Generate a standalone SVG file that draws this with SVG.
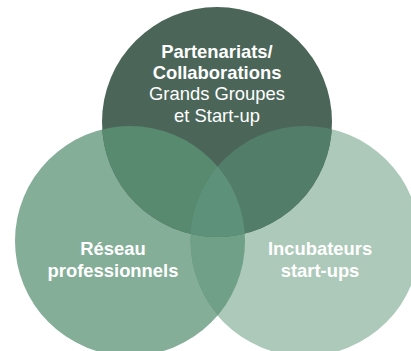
<svg xmlns="http://www.w3.org/2000/svg" width="411" height="351" viewBox="0 0 411 351">
  <style>
    .lbl { font-family: "Liberation Sans", Arial, Helvetica, sans-serif; font-size: 18.4px; fill: #ffffff; text-anchor: middle; }
    .b { font-weight: bold; }
  </style>
  <defs>
    <clipPath id="cTop"><circle cx="217" cy="122" r="115"/></clipPath>
    <clipPath id="cLeft"><circle cx="130" cy="241" r="115"/></clipPath>
    <clipPath id="cRight"><circle cx="305" cy="241" r="115"/></clipPath>
  </defs>
  <rect width="411" height="351" fill="#ffffff"/>
  <g id="reseau">
    <circle cx="130" cy="241" r="115" fill="#84ae98"/>
  </g>
  <g id="incubateurs">
    <circle cx="305" cy="241" r="115" fill="#adc9b9"/>
  </g>
  <g id="partenariats">
    <circle cx="217" cy="122" r="115" fill="#4b6659"/>
  </g>
  <g id="overlaps">
    <g clip-path="url(#cLeft)"><circle cx="305" cy="241" r="115" fill="#70a088"/></g>
    <g clip-path="url(#cLeft)"><circle cx="217" cy="122" r="115" fill="#578a6f"/></g>
    <g clip-path="url(#cRight)"><circle cx="217" cy="122" r="115" fill="#527d69"/></g>
    <g clip-path="url(#cLeft)"><g clip-path="url(#cRight)"><circle cx="217" cy="122" r="115" fill="#5e917a"/></g></g>
  </g>
  <g id="labels">
    <text class="lbl b" x="217" y="57.5">Partenariats/</text>
    <text class="lbl b" x="217" y="78.5">Collaborations</text>
    <text class="lbl" x="217" y="100">Grands Groupes</text>
    <text class="lbl" x="217" y="121.5">et Start-up</text>
    <text class="lbl b" x="113" y="255">Réseau</text>
    <text class="lbl b" x="113" y="276.5">professionnels</text>
    <text class="lbl b" x="320" y="255">Incubateurs</text>
    <text class="lbl b" x="320" y="276.5">start-ups</text>
  </g>
</svg>
